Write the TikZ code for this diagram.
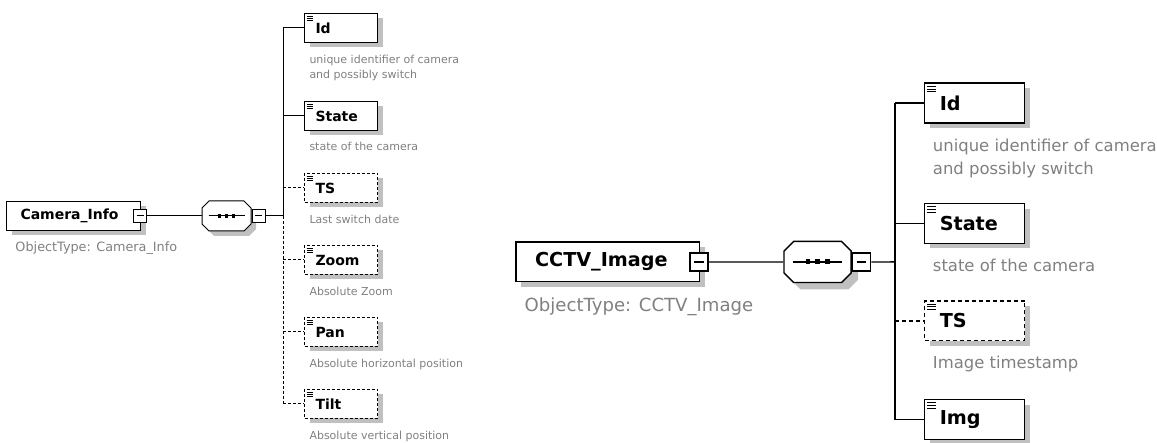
\documentclass[tikz,border=0pt]{standalone}
\usepackage{fontspec}
\setmainfont{DejaVu Sans}
\usetikzlibrary{positioning,shadows}
\definecolor{descgray}{RGB}{128,128,128}
\definecolor{shadegray}{RGB}{192,192,192}

% octogone de la sequence, autour d'un point
\newcommand{\octo}[1]{(#1) +(-17.5,15) -- +(17.5,15) -- +(24.5,8) -- +(24.5,-8) -- +(17.5,-15)
  -- +(-17.5,-15) -- +(-24.5,-8) -- +(-24.5,8) -- cycle}

\tikzset{
  shade box/.style={general shadow={fill=shadegray, shadow xshift=5pt, shadow yshift=-5pt}},
  elem/.style={draw, fill=white, shade box, anchor=west, minimum width=73pt, minimum height=29pt,
    inner xsep=11pt, text width=51pt, align=left, font=\fontsize{14}{16}\selectfont\bfseries},
  optelem/.style={elem, opt},
  root/.style={elem, anchor=east, minimum width=134pt, inner xsep=14pt, text width=106pt},
  minusbox/.style={draw, fill=white, minimum size=13pt, inner sep=0pt},
  seqbox/.style={minimum width=49pt, minimum height=30pt, inner sep=0pt},
  desc/.style={anchor=base west, align=left, inner sep=0pt, text=descgray, font=\fontsize{11}{15}\selectfont},
  objtype/.style={desc, font=\fontsize{12.8}{15}\selectfont},
}

\begin{document}
\begin{tikzpicture}[x=1pt, y=1pt]
\useasboundingbox (0,0) rectangle (1157,-443);

% Camera_Info
\begin{scope}[shift={(283,-28)}, line width=1pt, opt/.style={dash pattern=on 3pt off 2pt}]
  \coordinate (cspine) at (0,-188);
  \node[root] (cam) at (-142,-188) {Camera\_Info};
  \node[minusbox] (camm) at (-143,-188) {\rule{7pt}{1pt}};
  \node[objtype] (camt) at (-268,-224) {ObjectType: Camera\_Info};
  \node[seqbox] (cseq) at (-56.5,-188) {};
  \fill[shadegray] \octo{[shift={(5,-5)}]cseq.center};
  \draw[fill=white] \octo{cseq.center};
  \node[minusbox] (cseqm) at (-24.5,-188) {\rule{7pt}{1pt}};
  \draw ([xshift=-18pt]cseq.center) -- ([xshift=18pt]cseq.center);
  \foreach \dx in {-7,0,7}
    \fill ([xshift=\dx pt]cseq.center) +(-1.8pt,-1.8pt) rectangle +(1.8pt,1.8pt);

  % enfants
  \node[elem] (cid) at (21,0) {Id};
  \node[elem] (cstate) at (21,-88) {State};
  \node[optelem] (cts) at (21,-160) {TS};
  \node[optelem] (czoom) at (21,-232) {Zoom};
  \node[optelem] (cpan) at (21,-304) {Pan};
  \node[optelem] (ctilt) at (21,-376) {Tilt};

  \node[desc] (cidd) at (26,-51) {unique identifier of camera\\and possibly switch};
  \node[desc] (cstated) at (26,-123) {state of the camera};
  \node[desc] (ctsd) at (26,-196) {Last switch date};
  \node[desc] (czoomd) at (26,-268) {Absolute Zoom};
  \node[desc] (cpand) at (26,-340) {Absolute horizontal position};
  \node[desc] (ctiltd) at (26,-412) {Absolute vertical position};

  % traits
  \draw (camm) -- (cseq);
  \draw (cseqm) -- (cspine);
  \draw (cspine |- cid.west) -- (cspine);
  \draw[opt] (cspine) -- (cspine |- ctilt.west);
  \foreach \n in {cid,cstate}
    \draw (cspine |- \n.west) -- (\n.west);
  \foreach \n in {cts,czoom,cpan,ctilt}
    \draw[opt] (cspine |- \n.west) -- (\n.west);
  \foreach \n in {cid,cstate,cts,czoom,cpan,ctilt}
    \foreach \k in {0,1,2}
      \draw[line width=0.7pt] ([xshift=2.5pt,yshift={-(3+2*\k)*1pt}]\n.north west) -- ++(6.5pt,0);
\end{scope}

% CCTV_Image
\begin{scope}[shift={(895,-103)}, scale=1.37, transform shape, line width=1.4pt,
  opt/.style={dash pattern=on 4pt off 3pt},
  desc/.append style={font=\fontsize{12}{16.8}\selectfont},
  objtype/.append style={font=\fontsize{13.2}{16}\selectfont}]
  \coordinate (ispine) at (0,-116);
  \node[root] (img) at (-142,-116) {CCTV\_Image};
  \node[minusbox] (imgm) at (-143,-116) {\rule{7pt}{1pt}};
  \node[objtype] (imgt) at (-271,-152) {ObjectType: CCTV\_Image};
  \node[seqbox] (iseq) at (-56.5,-116) {};
  \fill[shadegray] \octo{[shift={(5,-5)}]iseq.center};
  \draw[fill=white] \octo{iseq.center};
  \node[minusbox] (iseqm) at (-24.5,-116) {\rule{7pt}{1pt}};
  \draw ([xshift=-18pt]iseq.center) -- ([xshift=18pt]iseq.center);
  \foreach \dx in {-7,0,7}
    \fill ([xshift=\dx pt]iseq.center) +(-1.8pt,-1.8pt) rectangle +(1.8pt,1.8pt);

  % enfants
  \node[elem] (iid) at (21,0) {Id};
  \node[elem] (istate) at (21,-88) {State};
  \node[optelem] (its) at (21,-159) {TS};
  \node[elem] (iimg) at (21,-231) {Img};

  \node[desc] (iidd) at (27,-52.5) {unique identifier of camera\\and possibly switch};
  \node[desc] (istated) at (27,-123) {state of the camera};
  \node[desc] (itsd) at (27,-194) {Image timestamp};

  % traits
  \draw (imgm) -- (iseq);
  \draw (iseqm) -- (ispine);
  \draw (ispine |- iid.west) -- (ispine |- iimg.west);
  \foreach \n in {iid,istate,iimg}
    \draw (ispine |- \n.west) -- (\n.west);
  \draw[opt] (ispine |- its.west) -- (its.west);
  \foreach \n in {iid,istate,its,iimg}
    \foreach \k in {0,1,2}
      \draw[line width=0.9pt] ([xshift=2.5pt,yshift={-(3+2*\k)*1pt}]\n.north west) -- ++(6.5pt,0);
\end{scope}
\end{tikzpicture}
\end{document}
